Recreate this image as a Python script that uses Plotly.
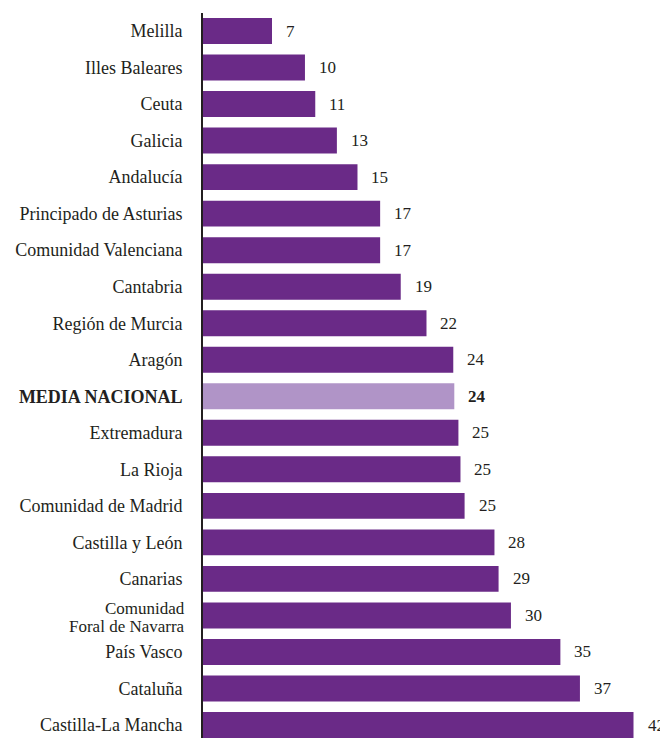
import plotly.graph_objects as go

regions = [
    "Melilla", "Illes Baleares", "Ceuta", "Galicia", "Andalucía",
    "Principado de Asturias", "Comunidad Valenciana", "Cantabria",
    "Región de Murcia", "Aragón", "MEDIA NACIONAL", "Extremadura",
    "La Rioja", "Comunidad de Madrid", "Castilla y León", "Canarias",
    "Comunidad<br>Foral de Navarra", "País Vasco", "Cataluña",
    "Castilla-La Mancha",
]
values = [6.7, 9.9, 10.9, 13.0, 15.0, 17.2, 17.2, 19.2, 21.7, 24.3, 24.4,
          24.8, 25.0, 25.4, 28.3, 28.7, 29.9, 34.7, 36.6, 41.8]
labels = ["7", "10", "11", "13", "15", "17", "17", "19", "22", "24", "24",
          "25", "25", "25", "28", "29", "30", "35", "37", "42"]
highlight = "MEDIA NACIONAL"

DARK = "#6a2a87"
LIGHT = "#b094c7"
TXT = "#231f20"
FONT = "Liberation Serif"
FS = 18

colors = [LIGHT if r == highlight else DARK for r in regions]
ticktext = []
for r in regions:
    if r == highlight:
        ticktext.append(f"<b>{r}</b>")
    elif "<br>" in r:
        ticktext.append("")
    else:
        ticktext.append(r)

fig = go.Figure(go.Bar(
    x=values, y=regions, orientation="h",
    marker=dict(color=colors, line=dict(width=0)),
    hoverinfo="skip",
))

# value labels
for r, v, lab in zip(regions, values, labels):
    txt = f"<b>{lab}</b>" if r == highlight else lab
    fig.add_annotation(x=v, y=r, text=txt, showarrow=False,
                       xanchor="left", yanchor="middle", xshift=12,
                       font=dict(family=FONT, size=17, color=TXT))

# two-line category label with tight line spacing
for r in regions:
    if "<br>" in r:
        parts = r.split("<br>")
        for i, p in enumerate(parts):
            fig.add_annotation(x=0, xref="paper", y=r, text=p, showarrow=False,
                               xanchor="right", yanchor="middle", xshift=-17,
                               yshift=7 - 18 * i, borderpad=0,
                               font=dict(family=FONT, size=17, color=TXT))

fig.update_layout(
    width=668, height=738,
    margin=dict(l=195, r=8, t=5, b=8),
    paper_bgcolor="white", plot_bgcolor="white",
    bargap=0.29,
    showlegend=False,
    font=dict(family=FONT, size=FS, color=TXT),
)
fig.update_xaxes(range=[0, 45.15], visible=False, fixedrange=True)
fig.update_yaxes(
    type="category",
    categoryorder="array", categoryarray=regions,
    range=[19.356, -0.493],
    tickmode="array", tickvals=regions, ticktext=ticktext,
    showline=True, linecolor="#231f20", linewidth=2,
    showgrid=False, zeroline=False, ticks="",
    ticklabelstandoff=15,
    tickfont=dict(family=FONT, size=FS, color=TXT),
    automargin=False,
)

fig.write_html("out.html")
